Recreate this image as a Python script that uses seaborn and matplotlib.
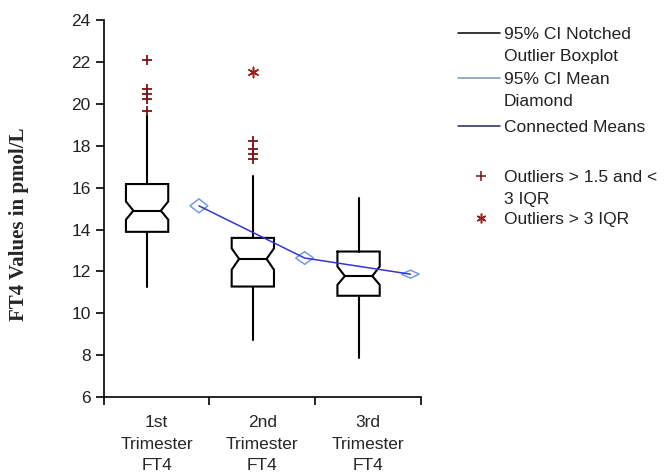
import numpy as np
import matplotlib
matplotlib.use("Agg")
from matplotlib import pyplot as plt
from matplotlib.lines import Line2D
import seaborn as sns

# box statistics (pmol/L)
groups = ["1st\nTrimester\nFT4", "2nd\nTrimester\nFT4", "3rd\nTrimester\nFT4"]
q1 = [13.89, 11.28, 10.84]
medians = [14.90, 12.60, 11.78]
q3 = [16.17, 13.60, 12.95]
whisker_lo = [11.25, 8.74, 7.86]
whisker_hi = [19.45, 16.54, 15.50]
notch_lo = [14.47, 12.08, 11.36]
notch_hi = [15.34, 13.10, 12.24]
means = [15.13, 12.64, 11.87]
mean_ci = [0.33, 0.30, 0.19]
# outliers (group index, value)
mild_group = [0, 0, 0, 0, 0, 1, 1, 1, 1]
mild_values = [22.09, 20.72, 20.48, 20.24, 19.65, 18.20, 17.85, 17.60, 17.35]
extreme_group = [1]
extreme_values = [21.53]

sns.set_style("ticks")
plt.rcParams["font.family"] = ["Liberation Sans", "DejaVu Sans"]

fig = plt.figure(figsize=(6.65, 4.74), dpi=100)
ax = fig.add_axes([0.156, 0.162, 0.477, 0.796])

box_off = 0.41   # box centre inside each category band
half_w = 0.20
notch_in = 0.07
dia_off = 0.90
dia_w = 0.085

for i in range(len(groups)):
    c = i + box_off
    l, r = c - half_w, c + half_w
    nl, nr = c - half_w + notch_in, c + half_w - notch_in
    xs = [l, r, r, nr, r, r, l, l, nl, l, l]
    ys = [q3[i], q3[i], notch_hi[i], medians[i], notch_lo[i], q1[i],
          q1[i], notch_lo[i], medians[i], notch_hi[i], q3[i]]
    ax.plot(xs, ys, color="black", lw=1.5, solid_joinstyle="miter")
    ax.plot([nl, nr], [medians[i], medians[i]], color="black", lw=1.5)
    ax.plot([c, c], [q3[i], whisker_hi[i]], color="black", lw=1.5)
    ax.plot([c, c], [q1[i], whisker_lo[i]], color="black", lw=1.5)
    # mean diamond
    m, h, d = means[i], mean_ci[i], i + dia_off
    ax.fill([d - dia_w, d, d + dia_w, d, d - dia_w],
            [m, m + h, m, m - h, m], facecolor="none",
            edgecolor="#6f9de8", lw=1.1, zorder=3)

mean_x = np.arange(len(groups)) + dia_off
sns.lineplot(x=mean_x, y=means, ax=ax, color="#3535d8", lw=1.1,
             sort=False, zorder=4)
sns.scatterplot(x=np.array(mild_group) + box_off, y=mild_values, ax=ax,
                marker="+", s=55, color="#7a1515", linewidth=1.3, zorder=5)
sns.scatterplot(x=np.array(extreme_group) + box_off, y=extreme_values, ax=ax,
                marker=(6, 2, 0), s=55, color="#a01c1c", linewidth=1.1,
                zorder=5)

ax.set_xlim(0, 3)
ax.set_ylim(6, 24)
ax.set_yticks(np.arange(6, 25, 2))
ax.set_xticks([0, 1, 2, 3])
ax.set_xticklabels([])
ax.set_xticks(np.arange(len(groups)) + 0.5, minor=True)
ax.set_xticklabels(groups, minor=True, fontsize=12.5, linespacing=1.55)
ax.tick_params(axis="x", which="minor", length=0, pad=13)
ax.tick_params(axis="both", which="major", length=6, width=1.2,
               color="black", labelsize=12.5, labelcolor="#222222")
for s in ["left", "bottom"]:
    ax.spines[s].set_color("black")
    ax.spines[s].set_linewidth(1.2)
sns.despine(ax=ax)
ax.set_xlabel("")
ax.set_ylabel("")

fig.text(0.029, 1 - 224 / 474, "FT4 Values in pmol/L", rotation=90,
         ha="center", va="center", fontsize=15, fontweight="bold",
         family=["Liberation Serif", "DejaVu Serif"])

# legend drawn beside the axes
W, H = 665.0, 474.0
legend_rows = [
    ("line", "black", "95% CI Notched\nOutlier Boxplot", 33),
    ("line", "#7a93b8", "95% CI Mean\nDiamond", 78),
    ("line", "#1f2a5a", "Connected Means", 126),
    ("+", "#7a1515", "Outliers > 1.5 and <\n3 IQR", 176),
    ((6, 2, 0), "#a01c1c", "Outliers > 3 IQR", 218),
]
for kind, col, label, y in legend_rows:
    fy = 1 - y / H
    if kind == "line":
        fig.add_artist(Line2D([458 / W, 500 / W], [fy, fy], color=col,
                              lw=1.1, transform=fig.transFigure))
    else:
        fig.add_artist(Line2D([481 / W], [fy], marker=kind, color=col,
                              markersize=7, mew=1.1, linestyle="none",
                              transform=fig.transFigure))
    fig.text(504 / W, fy + 6 / H, label, ha="left", va="top",
             fontsize=12.5, color="#222222", linespacing=1.55)

fig.savefig("out.png", dpi=100)
